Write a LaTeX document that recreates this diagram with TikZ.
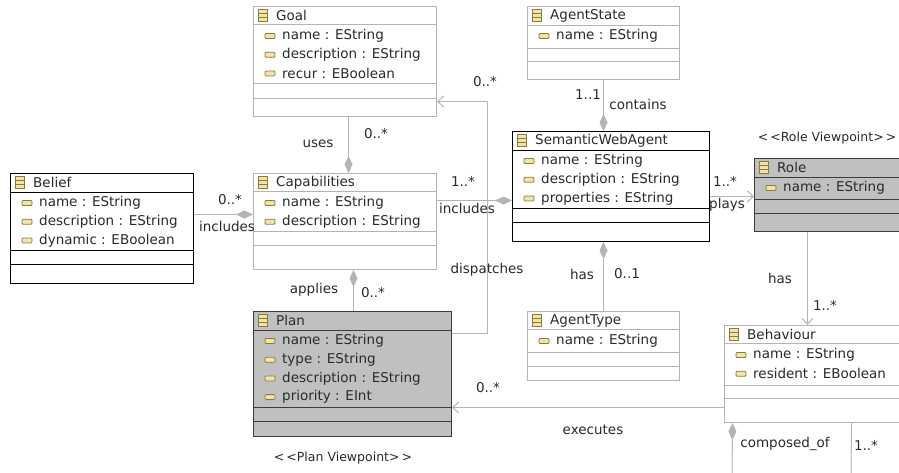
\documentclass[tikz,border=0pt]{standalone}
\usepackage{fontspec}
\setmainfont{DejaVu Sans}
\usetikzlibrary{arrows.meta}

\definecolor{edgegray}{HTML}{B4B4B4}
\definecolor{shadegray}{HTML}{C0C0C0}
\definecolor{darkline}{HTML}{3C3C3C}
\definecolor{iconfill}{HTML}{F0E4A8}
\definecolor{iconline}{HTML}{8C7A3C}
\definecolor{txt}{HTML}{2A2A2A}

\tikzstyle{cls} = [draw=edgegray, fill=white, line width=1pt, inner sep=0pt]
\tikzstyle{clsline} = [edgegray, line width=1pt]
\tikzstyle{clssel} = [draw=black, fill=white, line width=1pt, inner sep=0pt]
\tikzstyle{clsselline} = [black, line width=1pt]
\tikzstyle{clsview} = [draw=darkline, fill=shadegray, line width=1pt, inner sep=0pt]
\tikzstyle{clsviewline} = [darkline, line width=1pt]
\tikzstyle{lbl} = [font=\fontsize{13.5}{16}\selectfont, text=txt, inner sep=0pt]
\tikzstyle{classicon} = [draw=iconline, fill=iconfill, line width=0.8pt, minimum width=9pt, minimum height=12pt, inner sep=0pt,
  path picture={\draw[iconline, line width=0.8pt] ([yshift=2pt]path picture bounding box.west) -- ([yshift=2pt]path picture bounding box.east);
                \draw[iconline, line width=0.8pt] ([yshift=-2pt]path picture bounding box.west) -- ([yshift=-2pt]path picture bounding box.east);}]
\tikzstyle{attricon} = [draw=iconline, fill=iconfill, line width=0.8pt, rounded corners=1pt, minimum width=10pt, minimum height=5pt, inner sep=0pt]
\tikzstyle{link} = [edgegray, line width=1pt]
\tikzstyle{agg} = [link, {Diamond[length=17pt,width=8pt,fill=edgegray]}-]
\tikzstyle{nav} = [link, -{Straight Barb[length=6pt,width=11pt]}]

% #1 style, #2 name, #3 x, #4 y, #5 width, #6 height, #7 compartment offsets, #8 title, #9 attributes
\newcommand{\umlclass}[9]{
  \node[#1, anchor=north west, minimum width=#5pt, minimum height=#6pt] (#2) at (#3,#4) {};
  \foreach \o in {#7}
    \draw[#1line] ([yshift=-\o pt]#2.north west) -- ([yshift=-\o pt]#2.north east);
  \node[classicon] (#2-icon) at ([xshift=10pt,yshift=-9.5pt]#2.north west) {};
  \node[lbl, anchor=west] (#2-title) at ([xshift=23pt,yshift=-9.5pt]#2.north west) {#8};
  \foreach \a [count=\i] in {#9} {
    \pgfmathsetmacro\ay{30+(\i-1)*18.7}
    \node[attricon] (#2-ai\i) at ([xshift=17pt,yshift=-\ay pt]#2.north west) {};
    \node[lbl, anchor=west] (#2-a\i) at ([xshift=29pt,yshift=-\ay pt]#2.north west) {\a};
  }
}

\begin{document}
\begin{tikzpicture}[x=1pt, y=-1pt]
    \useasboundingbox (0,0) rectangle (899,472);
    \clip (0,0) rectangle (899,472);

    % classes
    \umlclass{cls}{goal}{253}{6}{183}{110}{18,77,92}{Goal}{name : EString, description : EString, recur : EBoolean}
    \umlclass{cls}{astate}{527}{6}{152}{73}{19,42,55}{AgentState}{name : EString}
    \umlclass{clssel}{belief}{10}{173}{183}{110}{19,77,91}{Belief}{name : EString, description : EString, dynamic : EBoolean}
    \umlclass{cls}{capab}{253}{173}{183}{96}{18,58,72}{Capabilities}{name : EString, description : EString}
    \umlclass{clssel}{swa}{512}{131}{197}{110}{19,77,91}{SemanticWebAgent}{name : EString, description : EString, properties : EString}
    \umlclass{clsview}{role}{754}{158}{190}{73}{19,41,55}{Role}{name : EString}
    \umlclass{clsview}{plan}{253}{311}{198}{125}{19,96,110}{Plan}{name : EString, type : EString, description : EString, priority : EInt}
    \umlclass{cls}{atype}{527}{311}{152}{69}{18,41,55}{AgentType}{name : EString}
    \umlclass{cls}{behav}{724}{325}{190}{97}{18,60,73}{Behaviour}{name : EString, resident : EBoolean}

    \node[lbl, font=\fontsize{12.5}{15}\selectfont] (roleview) at (827,138) {{<}\,{<}Role Viewpoint{>}\,{>}};
    \node[lbl, font=\fontsize{12.5}{15}\selectfont] (planview) at (343,458) {{<}\,{<}Plan Viewpoint{>}\,{>}};

    % connectors
    \draw[agg] ([yshift=7pt]capab.west) -- ([yshift=14pt]belief.east);
    \node[lbl] (l-bc1) at (230,200) {0..*};
    \node[lbl] (l-bc2) at (227,226) {includes};

    \draw[agg] ([xshift=3.5pt]capab.north) -- ([xshift=3.5pt]goal.south);
    \node[lbl] (l-gc1) at (318,144) {uses};
    \node[lbl] (l-gc2) at (376,134) {0..*};

    \draw[agg] ([xshift=8.5pt]capab.south) -- ([xshift=1pt]plan.north);
    \node[lbl] (l-cp1) at (314,290) {applies};
    \node[lbl] (l-cp2) at (373,293) {0..*};

    \draw[agg] ([yshift=-14pt]swa.west) -- ([yshift=21pt]capab.east);
    \node[lbl] (l-cs1) at (463,181) {1..*};
    \node[lbl] (l-cs2) at (467,208) {includes};

    \draw[nav] ([yshift=40.5pt]plan.east) -- ++(35,0) |- ([yshift=-40pt]goal.east);
    \node[lbl] (l-pg1) at (485,82) {0..*};
    \node[lbl] (l-pg2) at (487,270) {dispatches};

    \draw[agg] ([xshift=-7.5pt]swa.north) -- (astate.south);
    \node[lbl] (l-as1) at (588,95) {1..1};
    \node[lbl] (l-as2) at (638,104) {contains};

    \draw[agg] ([xshift=-7.5pt]swa.south) -- (atype.north);
    \node[lbl] (l-at1) at (582,274) {has};
    \node[lbl] (l-at2) at (627,274) {0..1};

    \draw[nav] ([yshift=-10pt]swa.east) -- ([yshift=-1.5pt]role.west);
    \node[lbl] (l-sr1) at (725,181) {1..*};
    \node[lbl] (l-sr2) at (727,205) {plays};

    \draw[nav] ([xshift=-42pt]role.south) -- ([xshift=-12pt]behav.north);
    \node[lbl] (l-rb1) at (780,278) {has};
    \node[lbl] (l-rb2) at (825,305) {1..*};

    \draw[nav] ([yshift=-33.5pt]behav.west) -- ([yshift=-33.5pt]plan.east);
    \node[lbl] (l-bp1) at (488,388) {0..*};
    \node[lbl] (l-bp2) at (593,430) {executes};

    \coordinate (cmpa) at (732,480);
    \coordinate (cmpb) at (851,480);
    \draw[agg] ([xshift=-87pt]behav.south) -- (cmpa);
    \draw[link] ([xshift=32pt]behav.south) -- (cmpb);
    \node[lbl] (l-bb1) at (785,444) {composed\_of};
    \node[lbl] (l-bb2) at (866,445) {1..*};
\end{tikzpicture}
\end{document}
